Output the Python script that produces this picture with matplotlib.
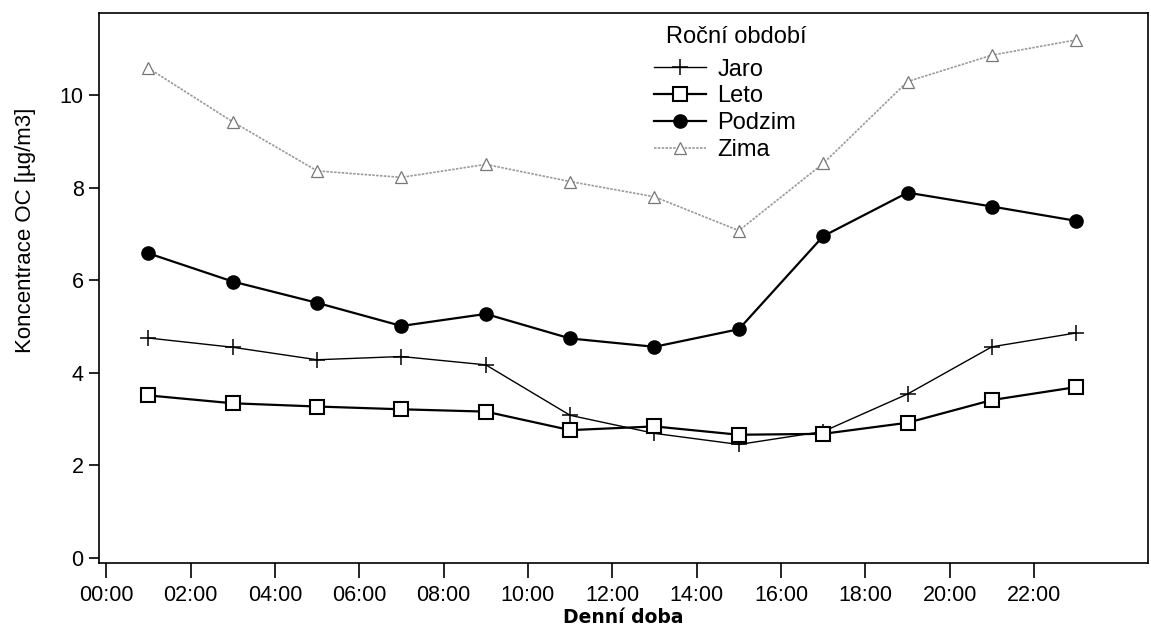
import matplotlib
matplotlib.use("Agg")
import matplotlib.pyplot as plt

plt.rcParams['font.family'] = ['Liberation Sans', 'DejaVu Sans']

hours = [1, 3, 5, 7, 9, 11, 13, 15, 17, 19, 21, 23]
jaro = [4.75, 4.55, 4.28, 4.35, 4.17, 3.08, 2.69, 2.45, 2.73, 3.54, 4.56, 4.86]
leto = [3.51, 3.34, 3.27, 3.21, 3.16, 2.76, 2.84, 2.66, 2.68, 2.92, 3.41, 3.69]
podzim = [6.58, 5.97, 5.51, 5.01, 5.27, 4.74, 4.56, 4.94, 6.95, 7.89, 7.59, 7.28]
zima = [10.58, 9.42, 8.36, 8.22, 8.5, 8.13, 7.8, 7.07, 8.52, 10.29, 10.86, 11.19]

xticks = list(range(0, 24, 2))
xticklabels = [f"{h:02d}:00" for h in xticks]
yticks = [0, 2, 4, 6, 8, 10]

fig = plt.figure(figsize=(11.51, 6.35), dpi=100)
ax = fig.add_axes([0.086, 0.1134, 0.9114, 0.8661])

ax.plot(hours, jaro, color='black', lw=1.0, marker='+', ms=11, mew=1.1, label='Jaro')
ax.plot(hours, leto, color='black', lw=1.6, marker='s', ms=9.5, mfc='white', mec='black', mew=1.5, label='Leto')
ax.plot(hours, podzim, color='black', lw=1.6, marker='o', ms=9.5, label='Podzim')
ax.plot(hours, zima, color='#9a9a9a', lw=1.2, ls=(0, (1.5, 0.8)), marker='^', ms=8, mfc='white', mec='#777777', mew=0.9, label='Zima')

ax.set_xlim(-0.17, 24.7)
ax.set_ylim(-0.11, 11.77)
ax.set_xticks(xticks)
ax.set_xticklabels(xticklabels)
ax.set_yticks(yticks)
ax.tick_params(axis='x', direction='out', length=11, width=1.2, labelsize=15.5, pad=5)
ax.tick_params(axis='y', direction='out', length=7, width=1.2, labelsize=15.5, pad=4)
for s in ax.spines.values():
    s.set_linewidth(1.2)

ax.set_xlabel('Denní doba', fontsize=13.5, fontweight='bold', family='DejaVu Sans', labelpad=1)
ax.set_ylabel('Koncentrace OC [µg/m3]', fontsize=16)
ax.yaxis.set_label_coords(-0.0605, 0.604)

fig.text(666 / 1151, 1 - 37 / 635, 'Roční období', fontsize=17, ha='left', va='center')
leg = ax.legend(loc='upper left', bbox_to_anchor=(649 / 1151, 1 - 54 / 635),
                bbox_transform=fig.transFigure, frameon=False, fontsize=17,
                handlelength=2.2, handletextpad=0.5,
                labelspacing=0.2, borderpad=0.2, borderaxespad=0)

fig.savefig('out.png', dpi=100)
